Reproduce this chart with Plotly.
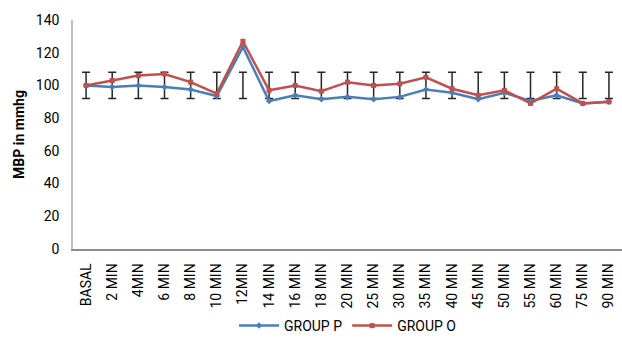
import plotly.graph_objects as go

categories = ["BASAL", "2 MIN", "4MIN", "6 MIN", "8 MIN", "10 MIN", "12MIN", "14 MIN",
              "16 MIN", "18 MIN", "20 MIN", "25 MIN", "30 MIN", "35 MIN", "40 MIN",
              "45 MIN", "50 MIN", "55 MIN", "60 MIN", "75 MIN", "90 MIN"]
group_p = [100, 99, 100, 99, 97.5, 93.5, 123.5, 90.5, 94, 91.5, 93, 91.5, 93, 97.5,
           95.5, 91.5, 95.5, 90.5, 94, 89, 90]
group_o = [100, 103, 106, 107, 102, 95, 127, 97, 100, 96.5, 102, 100, 101, 105,
           98, 94, 97, 89, 98, 89, 90]
err_center = [100] * 21
err_size = [8] * 21

fig = go.Figure()
fig.add_trace(go.Scatter(
    x=categories, y=err_center, mode="markers",
    marker=dict(size=1, color="rgba(0,0,0,0)"),
    error_y=dict(type="data", array=err_size, color="#262626", thickness=1.5, width=4),
    showlegend=False, hoverinfo="skip"))
fig.add_trace(go.Scatter(
    x=categories, y=group_p, mode="lines+markers", name="GROUP P",
    line=dict(color="#4a7ebb", width=2.5),
    marker=dict(symbol="diamond", size=5, color="#4a7ebb")))
fig.add_trace(go.Scatter(
    x=categories, y=group_o, mode="lines+markers", name="GROUP O",
    line=dict(color="#c0504d", width=2.5),
    marker=dict(symbol="square", size=5, color="#c0504d")))

fig.update_layout(
    width=622, height=342,
    margin=dict(l=73, r=0, t=20, b=93),
    paper_bgcolor="white", plot_bgcolor="white",
    font=dict(family="Roboto, Arial, sans-serif", size=14, color="#000000"),
    legend=dict(orientation="h", x=0.5, xanchor="center", xref="paper",
                y=-0.043, yanchor="bottom", yref="container",
                font=dict(size=14, color="#000000"), itemwidth=40),
    xaxis=dict(type="category", range=[-0.5, 20.5], tickangle=-90,
               showline=True, linecolor="#8c8c8c", linewidth=1.5,
               showgrid=False, ticks="", tickfont=dict(size=14), automargin=False,
               ticklabelstandoff=7),
    yaxis=dict(range=[0, 140], dtick=20, showline=True, linecolor="#bfbfbf", linewidth=1.5,
               showgrid=False, zeroline=False, ticks="", tickfont=dict(size=14),
               ticklabelstandoff=9,
               title=dict(text="<b>MBP in mmhg</b>", font=dict(size=14), standoff=8),
               automargin=False),
)
fig.write_html("out.html", config={"displayModeBar": False},
               post_script="document.body.style.margin='0';document.body.style.padding='0';document.body.style.overflow='hidden';")
